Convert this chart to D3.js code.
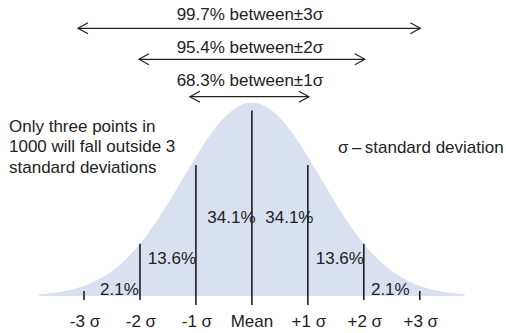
<!DOCTYPE html>
<html><head><meta charset="utf-8">
<script src="https://cdn.jsdelivr.net/npm/d3@7"></script>
<style>html,body{margin:0;padding:0;background:#fff;}svg{display:block;}</style>
</head><body>
<svg id="c" width="506" height="333"></svg>
<script>
// ---- data ----
const sigmaTicks = [-3, -2, -1, 0, 1, 2, 3];
const tickLabels = ["-3 σ", "-2 σ", "-1 σ", "Mean", "+1 σ", "+2 σ", "+3 σ"];
const markerHeights = [0.026, 0.27, 0.678, 0.96, 0.678, 0.27, 0.026]; // fraction of peak
const intervalStarts = [-3, -2, -1, 0, 1, 2];
const intervalPercents = ["2.1%", "13.6%", "34.1%", "34.1%", "13.6%", "2.1%"];
const spanSigmas = [3, 2, 1];
const spanLabels = ["99.7% between±3σ", "95.4% between±2σ", "68.3% between±1σ"];
const curveSpread = 1.236; // curve sd relative to marked sigma
const noteLines = ["Only three points in", "1000 will fall outside 3", "standard deviations"];
const legendText = "σ\u2009–\u2009standard deviation";

// ---- drawing ----
const svg = d3.select("#c");
const font = "'Liberation Sans', Arial, Helvetica, sans-serif";
const fs = 17;
const x = d3.scaleLinear().domain([-3, 3]).range([84, 419.8]);
const y = d3.scaleLinear().domain([0, 1]).range([296, 102.7]);
const dens = s => Math.exp(-(s * s) / (2 * curveSpread * curveSpread));

const pts = d3.range(-3.8, 3.8001, 0.02);
svg.append("path")
  .datum(pts)
  .attr("fill", "#d9e1f1")
  .attr("d", d3.area().x(d => x(d)).y0(y(0)).y1(d => y(dens(d))).curve(d3.curveBasis));

// marker lines
svg.selectAll("line.m").data(sigmaTicks).join("line")
  .attr("class", "m")
  .attr("x1", d => x(d)).attr("x2", d => x(d))
  .attr("y1", (d, i) => y(markerHeights[i]))
  .attr("y2", d => y(0) + (Math.abs(d) <= 1 ? 9 : 4))
  .attr("stroke", "#111").attr("stroke-width", 1.5);

// tick labels
svg.selectAll("text.t").data(sigmaTicks).join("text")
  .attr("class", "t")
  .attr("x", d => x(d) + (d === 0 ? 0 : 1))
  .attr("y", 326.5)
  .attr("text-anchor", "middle")
  .attr("font-family", font).attr("font-size", fs).attr("fill", "#222")
  .text((d, i) => tickLabels[i]);

// interval percents
const pctY = [295, 264, 223, 223, 264, 295];
const pctDx = [7.5, 4, 7.5, 9.5, 4, -1.5];
svg.selectAll("text.p").data(intervalStarts).join("text")
  .attr("class", "p")
  .attr("x", (d, i) => x(d + 0.5) + pctDx[i])
  .attr("y", (d, i) => pctY[i])
  .attr("text-anchor", "middle")
  .attr("font-family", font).attr("font-size", fs).attr("fill", "#222")
  .text((d, i) => intervalPercents[i]);

// span arrows
const arrowY = [28.3, 59.3, 96.7];
const textY = [20, 52.7, 86];
const ext = [6, 1, 6];
spanSigmas.forEach((s, i) => {
  const x1 = x(-s) - ext[i], x2 = x(s) + (i === 0 ? 0.5 : 1), yy = arrowY[i];
  const g = svg.append("g").attr("stroke", "#222").attr("stroke-width", 1.2).attr("fill", "none");
  g.append("line").attr("x1", x1).attr("x2", x2).attr("y1", yy).attr("y2", yy);
  g.append("path").attr("d", `M${x1 + 10},${yy - 5.5}L${x1},${yy}L${x1 + 10},${yy + 5.5}`);
  g.append("path").attr("d", `M${x2 - 10},${yy - 5.5}L${x2},${yy}L${x2 - 10},${yy + 5.5}`);
  svg.append("text")
    .attr("x", x(0) - 2).attr("y", textY[i])
    .attr("text-anchor", "middle")
    .attr("font-family", font).attr("font-size", fs).attr("fill", "#222")
    .text(spanLabels[i]);
});

// note
svg.append("text")
  .attr("font-family", font).attr("font-size", fs).attr("fill", "#222")
  .selectAll("tspan").data(noteLines).join("tspan")
  .attr("x", 9).attr("y", (d, i) => 131.5 + i * 20.5)
  .text(d => d);

svg.append("text")
  .attr("x", 338).attr("y", 152.5)
  .attr("font-family", font).attr("font-size", fs).attr("fill", "#222")
  .text(legendText);
</script>
</body></html>
